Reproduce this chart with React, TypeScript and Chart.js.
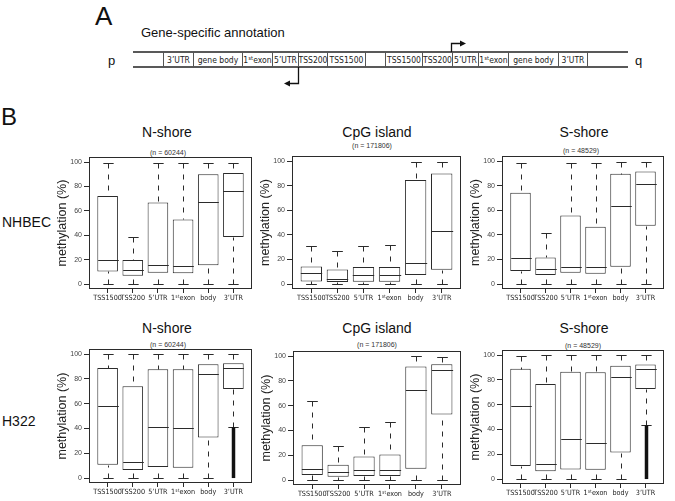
import React, { useEffect, useRef } from 'react';
import { Chart, registerables } from 'chart.js';

Chart.register(...registerables);

// ---------- data ----------
const categories = ['TSS1500', 'TSS200', '5’UTR', '1ˢᵗexon', 'body', '3’UTR'];
const yTickValues = [0, 20, 40, 60, 80, 100];
const columnTitles = ['N-shore', 'CpG island', 'S-shore'];
const probeCounts = ['(n = 60244)', '(n = 171806)', '(n = 48529)'];
const rowLabels = ['NHBEC', 'H322'];
const annotationRegions = ['3’UTR', 'gene body', '1ˢᵗexon', '5’UTR', 'TSS200', 'TSS1500', '', 'TSS1500', 'TSS200', '5’UTR', '1ˢᵗexon', 'gene body', '3’UTR'];

type Stats = {
  low: number[];
  q1: number[];
  median: number[];
  q3: number[];
  high: number[];
  outFrom: (number | null)[];
  outTo: (number | null)[];
};

const nhbecNShore: Stats = {
  low: [0, 0, 0, 0, 0, 0],
  q1: [10.4, 6.9, 9.3, 9.0, 15.4, 38.7],
  median: [20, 11.8, 16, 14.6, 67.6, 76],
  q3: [72.3, 19.8, 66.8, 53, 90, 91],
  high: [99, 38.7, 99, 99, 99.5, 99],
  outFrom: [null, null, null, null, null, null],
  outTo: [null, null, null, null, null, null],
};
const nhbecCpG: Stats = {
  low: [0, 0, 0, 0, 0, 0],
  q1: [2.2, 1.6, 1.9, 1.9, 7.3, 11.6],
  median: [8.9, 4.3, 7.3, 7.0, 17, 43.5],
  q3: [14.3, 11.9, 13.8, 13.8, 84.6, 90],
  high: [31, 26.8, 31, 31.9, 99, 99],
  outFrom: [null, null, null, null, null, null],
  outTo: [null, null, null, null, null, null],
};
const nhbecSShore: Stats = {
  low: [0, 0, 0, 0, 0, 0],
  q1: [10.6, 7.3, 9.2, 8.4, 14.1, 47.4],
  median: [21.4, 12.2, 14.1, 13.8, 63.7, 81.6],
  q3: [74.3, 21.7, 55.8, 46.6, 89.7, 91.6],
  high: [98.6, 41.7, 98.6, 98.6, 99.2, 99.5],
  outFrom: [null, null, null, null, null, null],
  outTo: [null, null, null, null, null, null],
};
const h322NShore: Stats = {
  low: [0, 0, 0, 0, 0, 41],
  q1: [10.8, 6.5, 8.9, 8.4, 32.7, 71.9],
  median: [58.1, 12.7, 41, 40, 84.3, 88.6],
  q3: [88.9, 74, 87.8, 87.8, 91.9, 92.7],
  high: [100, 100, 100, 100, 100, 100],
  outFrom: [null, null, null, null, null, 0],
  outTo: [null, null, null, null, null, 41],
};
const h322CpG: Stats = {
  low: [0, 0, 0, 0, 0, 0],
  q1: [4, 2.7, 3.2, 3.2, 9.1, 53],
  median: [8.6, 6.2, 7.8, 7.8, 72.6, 88.7],
  q3: [28, 12.4, 19.1, 20.7, 91.7, 93.5],
  high: [64, 27.2, 43, 46.8, 100, 99.2],
  outFrom: [null, null, null, null, null, null],
  outTo: [null, null, null, null, null, null],
};
const h322SShore: Stats = {
  low: [0, 0, 0, 0, 0, 43.4],
  q1: [10.5, 6.2, 7.8, 7.5, 21.4, 72.7],
  median: [59, 12.3, 32.7, 28.7, 82.6, 89],
  q3: [89, 76.7, 86.6, 86.3, 91.4, 92.5],
  high: [99, 100, 100, 100, 100, 100],
  outFrom: [null, null, null, null, null, 0],
  outTo: [null, null, null, null, null, 43.4],
};

// ---------- layout ----------
type Frame = { l: number; t: number; w: number; h: number };
const panelStats = [nhbecNShore, nhbecCpG, nhbecSShore, h322NShore, h322CpG, h322SShore];
const panelFrames: Frame[] = [
  { l: 89, t: 157, w: 163, h: 132 },
  { l: 292, t: 156, w: 169, h: 133 },
  { l: 502, t: 156, w: 162, h: 133 },
  { l: 89, t: 349, w: 163, h: 134 },
  { l: 293, t: 351, w: 168, h: 134 },
  { l: 502, t: 350, w: 162, h: 134 },
];
const titleX = [167, 377, 584];
const titleY = [132, 328];
const countPos = [
  [168, 152], [372, 145], [581, 150],
  [168, 344], [377, 344], [583, 345],
];
const regionEdges = [163, 193, 242, 272, 298, 327, 365, 385, 422, 452, 478, 508, 558, 587];

const INK = '#2b2b2b';
const SANS = "'Liberation Sans', Arial, sans-serif";
const NARROW = "'Liberation Sans Narrow', 'DejaVu Sans Condensed', sans-serif";
const YW = 34;
const PT = 6;
const PR = 4;
const XH = 20;

function BoxChart({ stats, frame }: { stats: Stats; frame: Frame }) {
  const ref = useRef<HTMLCanvasElement>(null);
  const cw = frame.w + YW + PR;
  const ch = frame.h + PT + XH;

  useEffect(() => {
    if (!ref.current) return;
    const extras = {
      id: 'boxExtras',
      afterDatasetsDraw(chart: any) {
        const { ctx, chartArea } = chart;
        const xs = chart.scales.x;
        const ys = chart.scales.y;
        const meta = chart.getDatasetMeta(0);
        const py = (v: number) => Math.round(ys.getPixelForValue(v)) + 0.5;
        const seg = (x1: number, y1: number, x2: number, y2: number) => {
          ctx.beginPath();
          ctx.moveTo(x1, y1);
          ctx.lineTo(x2, y2);
          ctx.stroke();
        };
        ctx.save();
        ctx.strokeStyle = INK;
        categories.forEach((_, i) => {
          const cx = Math.round(xs.getPixelForValue(i + 1)) + 0.5;
          const half = meta.data[i].width / 2;
          const cap = half / 2;
          ctx.lineWidth = 1;
          ctx.setLineDash([5, 6]);
          seg(cx, py(stats.high[i]), cx, py(stats.q3[i]));
          seg(cx, py(stats.low[i]), cx, py(stats.q1[i]));
          ctx.setLineDash([]);
          seg(cx - cap, py(stats.high[i]), cx + cap, py(stats.high[i]));
          seg(cx - cap, py(stats.low[i]), cx + cap, py(stats.low[i]));
          seg(cx - half, py(stats.median[i]), cx + half, py(stats.median[i]));
          const a = stats.outFrom[i];
          const b = stats.outTo[i];
          if (a != null && b != null) {
            ctx.lineWidth = 3.5;
            ctx.strokeStyle = '#111';
            seg(cx, ys.getPixelForValue(a), cx, ys.getPixelForValue(b));
            ctx.strokeStyle = INK;
          }
        });
        ctx.lineWidth = 1;
        ctx.strokeRect(
          Math.round(chartArea.left) + 0.5,
          Math.round(chartArea.top) + 0.5,
          Math.round(chartArea.right - chartArea.left) - 1,
          Math.round(chartArea.bottom - chartArea.top) - 1
        );
        ctx.restore();
      },
    };

    const chart = new Chart(ref.current, {
      type: 'bar',
      data: {
        datasets: [
          {
            data: categories.map((_, i) => ({ x: i + 1, y: [stats.q1[i], stats.q3[i]] })) as any,
            backgroundColor: '#ffffff',
            borderColor: INK,
            borderWidth: 1,
            borderSkipped: false,
            barPercentage: 0.82,
            categoryPercentage: 1,
          },
        ],
      },
      options: {
        animation: false,
        responsive: false,
        devicePixelRatio: 1,
        layout: { padding: { top: PT, right: PR, left: 0, bottom: 0 } },
        plugins: { legend: { display: false }, tooltip: { enabled: false } },
        scales: {
          x: {
            type: 'linear',
            min: 0.26,
            max: 6.74,
            offset: false,
            afterBuildTicks: (s: any) => {
              s.ticks = categories.map((_, i) => ({ value: i + 1 }));
            },
            afterFit: (s: any) => {
              s.height = XH;
            },
            grid: { display: true, drawOnChartArea: false, drawTicks: true, tickLength: 4, color: INK, offset: false },
            border: { display: false },
            ticks: {
              autoSkip: false,
              maxRotation: 0,
              minRotation: 0,
              padding: 1,
              color: '#222',
              font: { size: 7.2, family: NARROW },
              callback: (v: any) => categories[Math.round(Number(v)) - 1] ?? '',
            },
          },
          y: {
            type: 'linear',
            min: -4,
            max: 104,
            afterBuildTicks: (s: any) => {
              s.ticks = yTickValues.map((v) => ({ value: v }));
            },
            afterFit: (s: any) => {
              s.width = YW;
            },
            grid: { display: true, drawOnChartArea: false, drawTicks: true, tickLength: 5, color: INK },
            border: { display: false },
            ticks: {
              padding: 2,
              color: '#444',
              font: { size: 7, family: SANS },
              callback: (v: any) => String(v),
            },
            title: {
              display: true,
              text: 'methylation (%)',
              padding: 0,
              color: '#222',
              font: { size: 12.5, family: SANS },
            },
          },
        },
      } as any,
      plugins: [extras],
    });
    return () => chart.destroy();
  }, []);

  return (
    <canvas
      ref={ref}
      width={cw}
      height={ch}
      style={{ position: 'absolute', left: frame.l - YW, top: frame.t - PT, width: cw, height: ch }}
    />
  );
}

function Txt({ x, y, size, children, anchor = 'center', family = SANS, color = '#111' }: any) {
  return (
    <div
      style={{
        position: 'absolute',
        left: x,
        top: y,
        transform: anchor === 'center' ? 'translate(-50%, -50%)' : 'translate(0, -50%)',
        fontSize: size,
        fontFamily: family,
        lineHeight: 1,
        whiteSpace: 'nowrap',
        color,
      }}
    >
      {children}
    </div>
  );
}

function PanelA() {
  const top = 52;
  const bottom = 67;
  const cells = regionEdges.slice(0, -1).map((e, i) => ({ a: e, b: regionEdges[i + 1], label: annotationRegions[i] }));
  return (
    <svg width={675} height={110} style={{ position: 'absolute', left: 0, top: 0 }}>
      <line x1={133} y1={top} x2={628} y2={top} stroke="#222" strokeWidth={1.5} />
      <line x1={133} y1={bottom} x2={628} y2={bottom} stroke="#222" strokeWidth={1.5} />
      {regionEdges.map((e, i) => (
        <line key={i} x1={e + 0.5} y1={top} x2={e + 0.5} y2={bottom} stroke="#555" strokeWidth={1} />
      ))}
      {cells.map((c, i) => (
        <text
          key={i}
          x={(c.a + c.b) / 2 + 0.5}
          y={60}
          textAnchor="middle"
          dominantBaseline="middle"
          fontFamily={NARROW}
          fontSize={8.5}
          fill="#222"
        >
          {c.label}
        </text>
      ))}
      <polyline points="298.5,67 298.5,83.5 289,83.5" fill="none" stroke="#111" strokeWidth={1.3} />
      <polygon points="284,83.5 290,80.5 290,86.5" fill="#111" />
      <polyline points="451.5,52 451.5,43.5 461,43.5" fill="none" stroke="#111" strokeWidth={1.3} />
      <polygon points="466,43.5 460,40.5 460,46.5" fill="#111" />
      <text x={108} y={62} fontFamily={SANS} fontSize={13} dominantBaseline="middle" fill="#111">p</text>
      <text x={635} y={62} fontFamily={SANS} fontSize={13} dominantBaseline="middle" fill="#111">q</text>
    </svg>
  );
}

export default function App() {
  return (
    <div
      style={{
        position: 'absolute',
        left: 0,
        top: 0,
        width: 675,
        height: 501,
        background: '#ffffff',
        overflow: 'hidden',
        fontFamily: SANS,
      }}
    >
      <PanelA />
      <Txt x={95} y={16} size={26} anchor="left">A</Txt>
      <Txt x={141} y={32} size={13} anchor="left">Gene-specific annotation</Txt>
      <Txt x={1} y={117} size={24} anchor="left">B</Txt>
      {rowLabels.map((r, i) => (
        <Txt key={r} x={2} y={i === 0 ? 222 : 421} size={14} anchor="left">{r}</Txt>
      ))}
      {[0, 1].map((row) =>
        columnTitles.map((t, c) => (
          <Txt key={`t${row}${c}`} x={titleX[c]} y={titleY[row]} size={14}>{t}</Txt>
        ))
      )}
      {countPos.map((p, i) => (
        <Txt key={`n${i}`} x={p[0]} y={p[1]} size={7} color="#333">{probeCounts[i % 3]}</Txt>
      ))}
      {panelStats.map((s, i) => (
        <BoxChart key={i} stats={s} frame={panelFrames[i]} />
      ))}
    </div>
  );
}
